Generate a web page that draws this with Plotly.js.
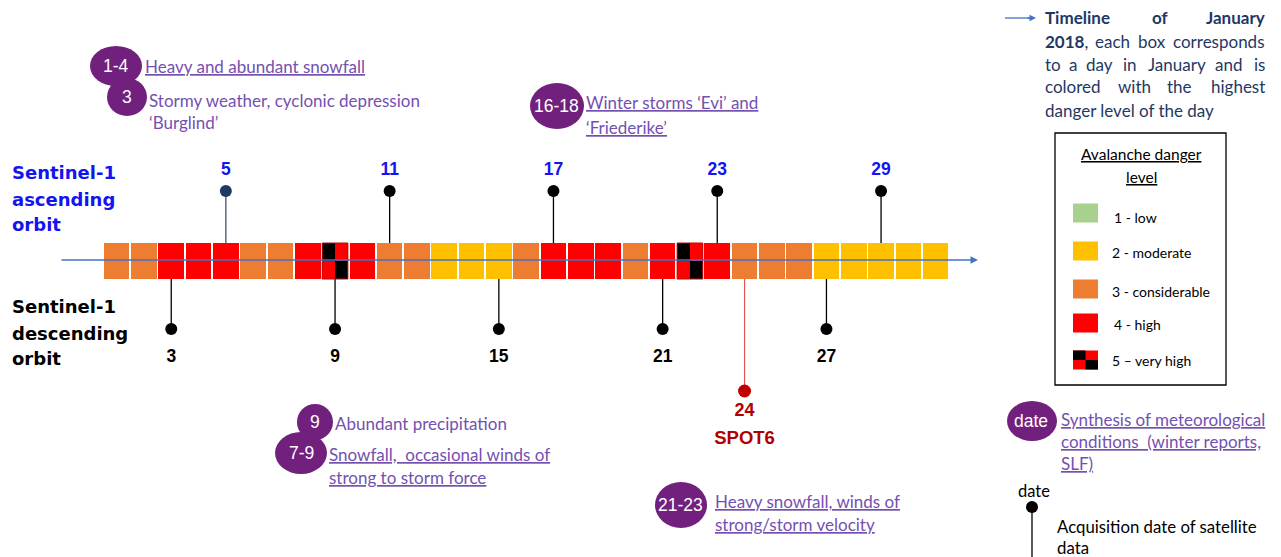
<!DOCTYPE html>
<html><head><meta charset="utf-8">
<script src="https://cdn.plot.ly/plotly-3.0.1.min.js"></script>
<style>html,body{margin:0;padding:0;background:#fff;overflow:hidden}#chart{width:1281px;height:557px}</style>
</head><body><div id="chart"></div>
<script>
// ---------------- DATA ----------------
const days = [1,2,3,4,5,6,7,8,9,10,11,12,13,14,15,16,17,18,19,20,21,22,23,24,25,26,27,28,29,30,31];
const dangerLevels = [3,3,4,4,4,3,3,4,5,4,3,3,2,2,2,3,4,4,4,3,4,5,4,3,3,3,2,2,2,2,2];
const ascendingDays = [5,11,17,23,29];
const descendingDays = [3,9,15,21,27];
const spotDays = [24];
const levelNames = ['1 - low','2 - moderate','3 - considerable','4 - high','5 \u2013 very high'];
const eventBadges = ['1-4','3','16-18','9','7-9','21-23','date'];
const eventTexts = [
  ['<u>Heavy and abundant snowfall</u>'],
  ['Stormy weather, cyclonic depression','\u2018Burglind\u2019'],
  ['<u>Winter storms \u2018Evi\u2019 and</u>','<u>\u2018Friederike\u2019</u>'],
  ['Abundant precipitation'],
  ['<u>Snowfall,\u00a0 occasional winds of</u>','<u>strong to storm force</u>'],
  ['<u>Heavy snowfall, winds of</u>','<u>strong/storm velocity</u>'],
  ['<u>Synthesis of meteorological</u>','<u>conditions\u00a0 (winter reports,</u>','<u>SLF)</u>']
];

// ---------------- LAYOUT CONSTANTS ----------------
const W = 1281, H = 557;
const X0 = 103, DW = 27.3;             // pixel of day-1 left edge, pixels per day
const toDay = p => 0.5 + (p - X0) / DW;
const PX = x => x / W, PY = y => 1 - y / H;
const BOX_TOP = 243, BOX_H = 36, GAP = 0.06;
const levelColors = {1:'#a9d18e',2:'#ffc000',3:'#ed7d31',4:'#ff0000',5:'#ff0000'};
const PURPLE = '#7450b0', BADGE = '#72207e', BLUE = '#1414f0', NAVY = '#1f3864', DARKRED = '#b00000';
const GILL = 'Lato, "Open Sans", sans-serif', ARIAL = '"Liberation Sans", Arial, sans-serif';
const HEAVY = '"DejaVu Sans", sans-serif';

const traces = [];
// day boxes
traces.push({type:'bar', x:days, y:days.map(()=>BOX_H), base:BOX_TOP, width:1-GAP,
  marker:{color:dangerLevels.map(l=>levelColors[l]), line:{width:0}}, hoverinfo:'skip'});

const shapes = [];
// level-5 checker quadrants
days.forEach((d,i)=>{
  if (dangerLevels[i] === 5) {
    const half = (1-GAP)/2;
    shapes.push({type:'rect', xref:'x', yref:'y', x0:d-half, x1:d, y0:BOX_TOP, y1:BOX_TOP+BOX_H/2, fillcolor:'#000', line:{width:0}});
    shapes.push({type:'rect', xref:'x', yref:'y', x0:d, x1:d+half, y0:BOX_TOP+BOX_H/2, y1:BOX_TOP+BOX_H, fillcolor:'#000', line:{width:0}});
    shapes.push({type:'rect', xref:'x', yref:'y', x0:d-half, x1:d+half, y0:BOX_TOP, y1:BOX_TOP+BOX_H, fillcolor:'rgba(0,0,0,0)', line:{width:1, color:'#b01010'}});
  }
});

// ascending stems
const ascColors = ascendingDays.map((d,i)=> i===0 ? NAVY : '#000');
const ascLine = ascendingDays.map((d,i)=> i===0 ? '#44546a' : '#000');
ascendingDays.forEach((d,i)=>{
  traces.push({type:'scatter', mode:'lines', x:[d,d], y:[191,BOX_TOP], line:{color:ascLine[i], width:1.3}, hoverinfo:'skip'});
});
traces.push({type:'scatter', mode:'markers', x:ascendingDays, y:ascendingDays.map(()=>191),
  marker:{size:12, color:ascColors}, hoverinfo:'skip'});
traces.push({type:'scatter', mode:'text', x:ascendingDays, y:ascendingDays.map(()=>171),
  text:ascendingDays.map(d=>'<b>'+d+'</b>'), textfont:{family:ARIAL, size:17.5, color:BLUE}, hoverinfo:'skip'});

// descending stems
descendingDays.forEach(d=>{
  traces.push({type:'scatter', mode:'lines', x:[d,d], y:[BOX_TOP+BOX_H,329], line:{color:'#000', width:1.3}, hoverinfo:'skip'});
});
traces.push({type:'scatter', mode:'markers', x:descendingDays, y:descendingDays.map(()=>329),
  marker:{size:12, color:'#000'}, hoverinfo:'skip'});
traces.push({type:'scatter', mode:'text', x:descendingDays, y:descendingDays.map(()=>358),
  text:descendingDays.map(d=>'<b>'+d+'</b>'), textfont:{family:ARIAL, size:17.5, color:'#000'}, hoverinfo:'skip'});

// SPOT6
spotDays.forEach(d=>{
  traces.push({type:'scatter', mode:'lines', x:[d,d], y:[BOX_TOP+BOX_H,391], line:{color:'#e05555', width:1.2}, hoverinfo:'skip'});
});
traces.push({type:'scatter', mode:'markers', x:spotDays, y:spotDays.map(()=>391),
  marker:{size:13, color:'#c00000'}, hoverinfo:'skip'});
traces.push({type:'scatter', mode:'text', x:spotDays, y:spotDays.map(()=>411),
  text:spotDays.map(d=>'<b>'+d+'</b>'), textfont:{family:ARIAL, size:18, color:DARKRED}, hoverinfo:'skip'});
traces.push({type:'scatter', mode:'text', x:spotDays, y:spotDays.map(()=>439),
  text:['<b>SPOT6</b>'], textfont:{family:ARIAL, size:18.5, color:DARKRED}, hoverinfo:'skip'});

// ---------------- ANNOTATIONS ----------------
const ann = [];
function txt(text, x, y, o) {
  o = o || {};
  ann.push({text:text, x:PX(x), y:PY(y), xref:'paper', yref:'paper', showarrow:false,
    xanchor:o.anchor||'left', yanchor:'middle', align:o.anchor||'left',
    font:{family:o.family||GILL, size:o.size||16, color:o.color||'#000', weight:o.weight||'normal'}});
}
// timeline arrow
ann.push({text:'', x:toDay(978), y:260, xref:'x', yref:'y', ax:toDay(60), ay:260, axref:'x', ayref:'y',
  showarrow:true, arrowhead:2, arrowsize:1, arrowwidth:1.5, arrowcolor:'#4472c4'});

// Sentinel labels
txt('Sentinel-1', 10, 172, {size:18, color:BLUE, weight:'bold', family:HEAVY});
txt('ascending', 10, 199, {size:18, color:BLUE, weight:'bold', family:HEAVY});
txt('orbit', 10, 224, {size:18, color:BLUE, weight:'bold', family:HEAVY});
txt('Sentinel-1', 10, 306, {size:18, color:'#000', weight:'bold', family:HEAVY});
txt('descending', 10, 333, {size:18, color:'#000', weight:'bold', family:HEAVY});
txt('orbit', 10, 358, {size:18, color:'#000', weight:'bold', family:HEAVY});

// event badges
const badgePos = [[116,66,26,20],[127,97,20,19],[557,106,27,23],[315,422,18,18],[301,453,26,21],[681,505,26,23],[1032,421,25,20]];
const textPos = [[143,67],[147,100],[584,103],[333,423],[327,454],[713,501],[1059,419]];
const lineStep = [0,22,24,0,23,23,22];
eventBadges.forEach((b,i)=>{
  const [cx,cy,rx,ry] = badgePos[i];
  shapes.push({type:'circle', xref:'paper', yref:'paper', x0:PX(cx-rx), x1:PX(cx+rx), y0:PY(cy+ry), y1:PY(cy-ry),
    fillcolor:BADGE, line:{width:0}, layer:'above'});
});
eventBadges.forEach((b,i)=>{
  const [cx,cy] = badgePos[i];
  txt(b, cx - (b.length>3 ? 1 : 0), cy, {anchor:'center', family:ARIAL, size:17.5, color:'#fff'});
  eventTexts[i].forEach((t,j)=> txt(t, textPos[i][0], textPos[i][1] + j*lineStep[i], {size:17, color:PURPLE}));
});

// top-right description (justified)
shapes.push({type:'line', xref:'paper', yref:'paper', x0:PX(1005), x1:PX(1030), y0:PY(18), y1:PY(18), line:{color:'#4472c4', width:1.3}});
ann.push({text:'', x:PX(1036), y:PY(18), xref:'paper', yref:'paper', ax:PX(1026), ay:PY(18), axref:'paper', ayref:'paper',
  showarrow:true, arrowhead:2, arrowsize:1, arrowwidth:1.3, arrowcolor:'#4472c4'});
const descLines = [
  [['<b>Timeline</b>',8.5],['<b>of</b>',2],['<b>January</b>',7.2]],
  [['<b>2018</b>,',5],['each',4],['box',3],['corresponds',11]],
  [['to',2],['a',1],['day',3],['in',2],['January',7],['and',3],['is',2]],
  [['colored',7],['with',4],['the',3],['highest',7]]
];
const DL = 1043, DR = 1267, CW = 8.3;
descLines.forEach((words,li)=>{
  const y = 18 + li*23;
  const widths = words.map(w=>w[1]*CW);
  const total = widths.reduce((a,b)=>a+b,0);
  const gap = (DR-DL-total)/(words.length-1);
  let x = DL;
  words.forEach((w,wi)=>{
    if (wi === 0) txt(w[0], DL, y, {size:17, color:NAVY});
    else if (wi === words.length-1) txt(w[0], DR, y, {size:17, color:NAVY, anchor:'right'});
    else txt(w[0], x + widths[wi]/2, y, {size:17, color:NAVY, anchor:'center'});
    x += widths[wi] + gap;
  });
});
txt('danger level of the day', DL, 110, {size:17, color:NAVY});

// danger legend
shapes.push({type:'rect', xref:'paper', yref:'paper', x0:PX(1055), x1:PX(1226), y0:PY(385), y1:PY(133), line:{color:'#000', width:1.3}, fillcolor:'rgba(0,0,0,0)'});
txt('<u>Avalanche danger</u>', 1141, 154, {anchor:'center', size:15.5});
txt('<u>level</u>', 1141, 177, {anchor:'center', size:15.5});
const swY = [213,251,289,323,360], lbY = [218,252,291,324,360], lbX = [1112,1110,1110,1112,1110];
levelNames.forEach((n,i)=>{
  const lvl = i+1, y = swY[i];
  shapes.push({type:'rect', xref:'paper', yref:'paper', x0:PX(1073), x1:PX(1098), y0:PY(y+9.5), y1:PY(y-9.5), fillcolor:levelColors[lvl], line:{width:0}});
  if (lvl === 5) {
    shapes.push({type:'rect', xref:'paper', yref:'paper', x0:PX(1073), x1:PX(1085.5), y0:PY(y), y1:PY(y-9.5), fillcolor:'#000', line:{width:0}});
    shapes.push({type:'rect', xref:'paper', yref:'paper', x0:PX(1085.5), x1:PX(1098), y0:PY(y+9.5), y1:PY(y), fillcolor:'#000', line:{width:0}});
  }
  txt(n, lbX[i], lbY[i], {size:14});
});

// acquisition legend
txt('date', 1016, 491, {size:16.5});
shapes.push({type:'line', xref:'paper', yref:'paper', x0:PX(1032), x1:PX(1032), y0:PY(507), y1:PY(557), line:{color:'#000', width:1.3}});
shapes.push({type:'circle', xref:'paper', yref:'paper', x0:PX(1026), x1:PX(1038), y0:PY(513), y1:PY(501), fillcolor:'#000', line:{width:0}});
txt('Acquisition date of satellite', 1055, 526, {size:16.8});
txt('data', 1055, 547, {size:16.8});

const layout = {
  width:W, height:H, margin:{l:0,r:0,t:0,b:0,pad:0},
  paper_bgcolor:'#fff', plot_bgcolor:'#fff', showlegend:false, bargap:0,
  xaxis:{range:[toDay(0), toDay(W)], visible:false, fixedrange:true},
  yaxis:{range:[H,0], visible:false, fixedrange:true},
  shapes:shapes, annotations:ann, hovermode:false
};
Plotly.newPlot('chart', traces, layout, {staticPlot:true, displayModeBar:false});
</script></body></html>
